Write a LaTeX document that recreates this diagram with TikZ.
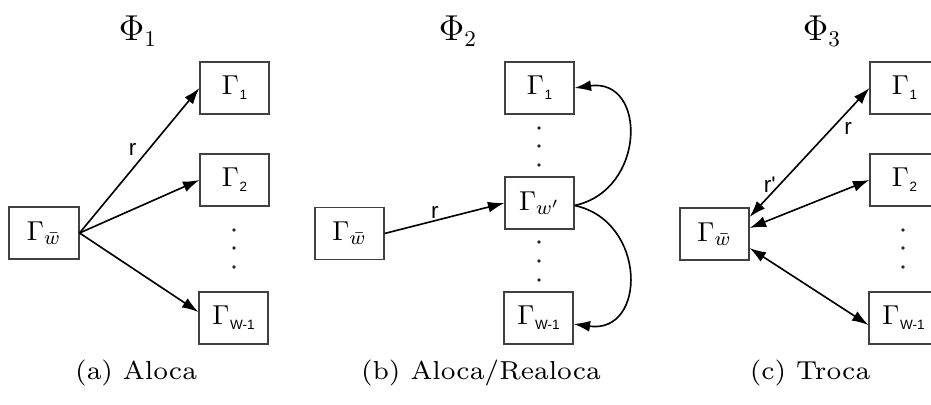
\documentclass[tikz,border=0pt]{standalone}
\usepackage{fontspec}
\newfontfamily\helv{Liberation Sans}
\usetikzlibrary{positioning,arrows.meta,calc}

\font\capfont=cmr7 at 10.4pt
\DeclareMathSizes{10.5}{10.5}{8}{6}
\newcommand{\gsub}[1]{$\Gamma$\kern0.2pt\raisebox{-2pt}{\helv\fontsize{5.4}{6}\selectfont #1}}

\begin{document}
\begin{tikzpicture}[
	x=0.4pt, y=0.4pt,
	>={Latex[length=6.6pt,width=4.4pt]},
	cell/.style={draw=black!75, line width=0.45pt, minimum width=27.6pt,
		minimum height=20.8pt, inner sep=0pt, font=\fontsize{10.5}{12}\selectfont},
	link/.style={->, line width=0.65pt},
	swap/.style={<->, line width=0.65pt},
	lbl/.style={font=\helv\fontsize{9}{10}\selectfont, inner sep=0.5pt},
	phi/.style={font=\fontsize{13.5}{16}\selectfont, anchor=base},
	captxt/.style={font=\capfont, anchor=base},
	vdot/.style={fill=black!85},
]
\useasboundingbox (0,0) rectangle (931,405);
\clip (0,0) rectangle (931,405);

% ---- (a) Aloca ----
\node[phi] (phiA) at (138,364) {$\Phi_1$};
\node[cell, minimum width=28pt] (wA) at (44,172) {$\Gamma_{\bar w}$};
\node[cell] (a1) at (234.5,317) {\gsub{1}};
\node[cell] (a2) at (234.5,225) {\gsub{2}};
\node[cell] (aW) at (233.5,87) {\gsub{W-1}};
\foreach \y in {175,157,138} \fill[vdot] (234,\y) circle[radius=0.75pt];

\draw[link] (wA.east) -- node[lbl, pos=0.52, xshift=-3.7pt, yshift=3.1pt] {r} (a1.west);
\draw[link] (wA.east) -- (a2.west);
\draw[link] (wA.east) -- ([yshift=2.4pt]aW.west);

\node[captxt] (capA) at (136,25) {(a) Aloca};

% ---- (b) Aloca/Realoca ----
\node[phi] (phiB) at (458,364) {$\Phi_2$};
\node[cell] (wB) at (349.5,171.5) {$\Gamma_{\bar w}$};
\node[cell] (b1) at (539.5,317) {\gsub{1}};
\node[cell] (bw) at (539.5,202) {$\Gamma_{w'}$};
\node[cell] (bW) at (538.5,87) {\gsub{W-1}};
\foreach \y in {277,259,240,163,144,125} \fill[vdot] (539,\y) circle[radius=0.75pt];

\draw[link] (wB.east) -- node[lbl, above=0pt, pos=0.42] {r} (bw.west);
\draw[link] ([yshift=-1pt]bw.east) to[out=12, in=8, looseness=1.6] (b1.east);
\draw[link] ([yshift=-1pt]bw.east) to[out=-12, in=-8, looseness=1.6] ([yshift=-2.4pt]bW.east);

\node[captxt] (capB) at (481,25) {(b) Aloca/Realoca};

% ---- (c) Troca ----
\node[phi] (phiC) at (822,364) {$\Phi_3$};
\node[cell] (wC) at (714.5,171) {$\Gamma_{\bar w}$};
\node[cell] (c1) at (904.5,317) {\gsub{1}};
\node[cell] (c2) at (904.5,225) {\gsub{2}};
\node[cell] (cW) at (903.5,87) {\gsub{W-1}};
\foreach \y in {175,157,138} \fill[vdot] (903,\y) circle[radius=0.75pt];

\draw[swap] ([yshift=6.8pt]wC.east) -- (c1.west)
	node[lbl, pos=0.75, xshift=3.5pt, yshift=-3.2pt] {r}
	node[lbl, pos=0.21, xshift=-2pt, yshift=2pt] {r\textquotesingle};
\draw[swap] ([yshift=2.4pt]wC.east) -- (c2.west);
\draw[swap] ([yshift=-5.6pt]wC.east) -- ([yshift=-2.8pt]cW.west);

\node[captxt] (capC) at (810,25) {(c) Troca};

\end{tikzpicture}
\end{document}
